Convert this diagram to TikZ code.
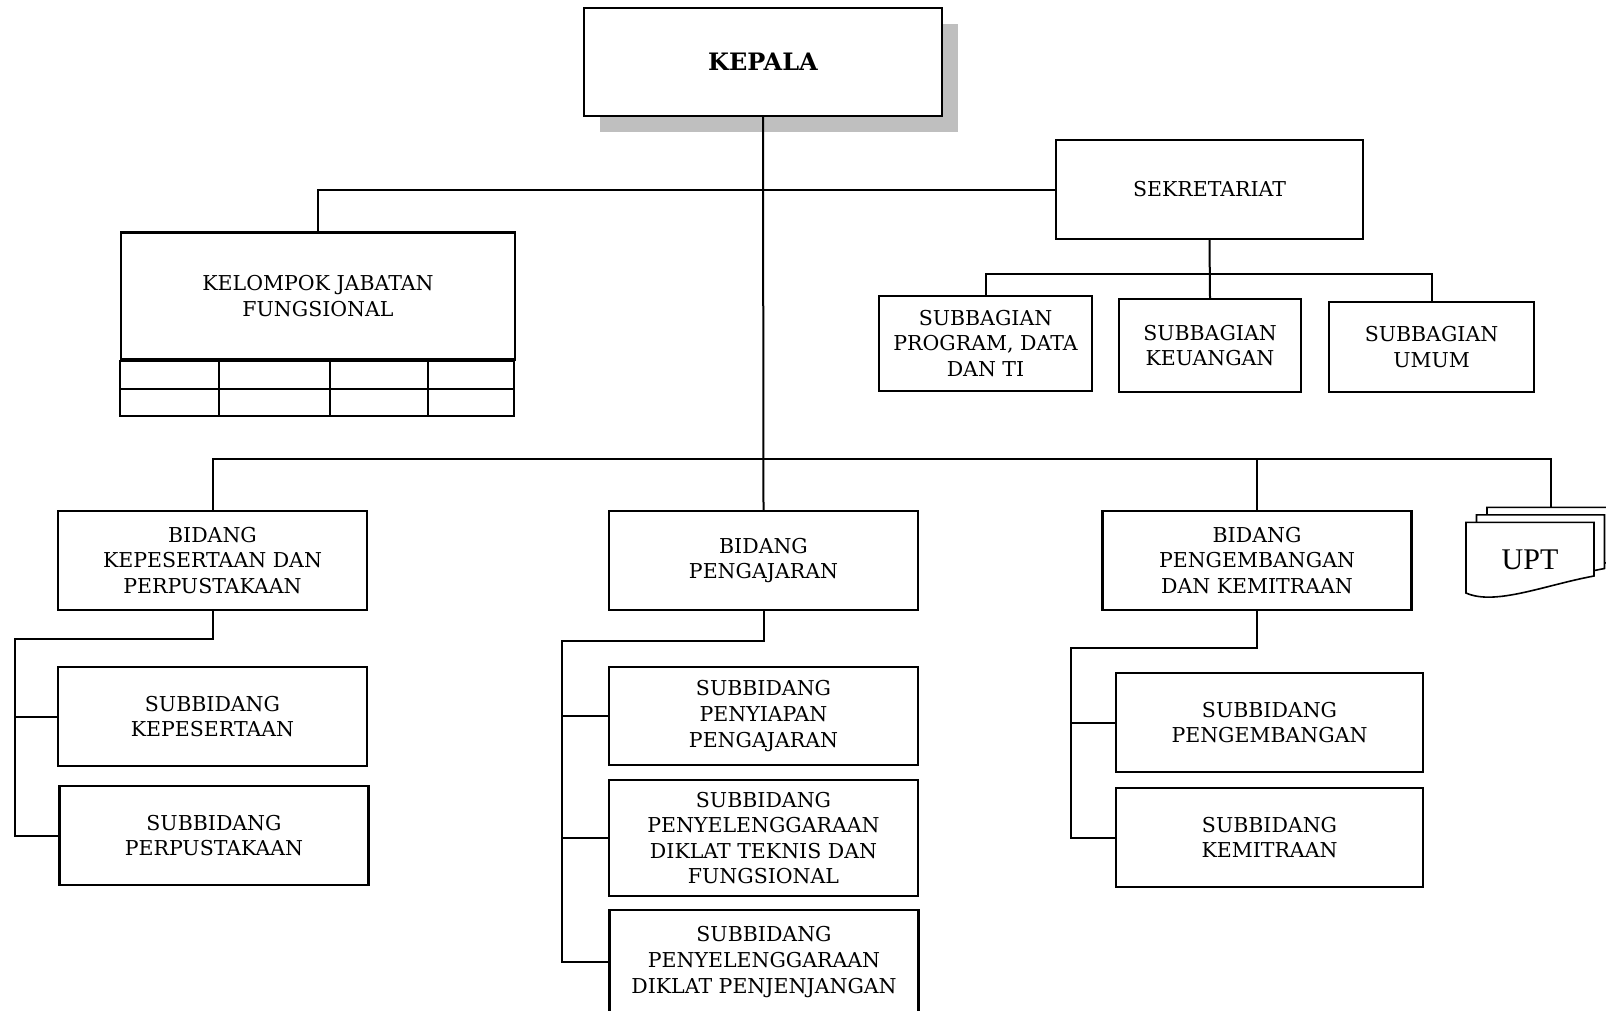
\documentclass[tikz,border=0pt]{standalone}
\usepackage{fontspec}
\setmainfont{DejaVu Serif}
\newfontfamily\uptfont{Liberation Serif}
\usepackage{xcolor}
\usepackage{tikz}
\usetikzlibrary{shapes,positioning,shadows,calc}
\definecolor{shadowgray}{RGB}{191,191,191}
\tikzset{
    unit/.style={rectangle, draw, line width=2.2pt, fill=white, align=center, inner sep=2pt, font=\fontsize{20.5}{25.6}\selectfont},
    bidang/.style={unit, minimum width=309pt, minimum height=99pt},
    chief/.style={unit, font=\fontsize{24}{28}\selectfont\bfseries, drop shadow={shadow xshift=16pt, shadow yshift=-16pt, fill=shadowgray, opacity=1}},
    line/.style={draw, line width=2pt},
    doc/.style={draw, line width=1.6pt, fill=white}
}

\begin{document}
\begin{tikzpicture}[x=1pt, y=-1pt]
    \clip (0,0) rectangle (1606,1010);
    \fill [white] (0,0) rectangle (1606,1010);

    % Kepala and Sekretariat
    \node [chief, minimum width=358pt, minimum height=108pt] (kepala) at (763,62) {KEPALA};
    \node [unit, minimum width=307pt, minimum height=99pt] (sekretariat) at (1209.5,189.5) {SEKRETARIAT};

    % Kelompok jabatan fungsional
    \node [unit, minimum width=394pt, minimum height=127pt] (kjf) at (318,296) {KELOMPOK JABATAN\\FUNGSIONAL};
    \draw [line width=2.2pt] (kjf.south west) rectangle ++(394,55.5);
    \draw [line width=2.2pt] (kjf.south west) ++(0,28.5) -- ++(394,0);
    \foreach \x in {219,330,428}
        \draw [line width=2.2pt] (\x,359.5) -- (\x,415);

    % Subbagian
    \node [unit, minimum width=213pt, minimum height=95pt] (sbprog) at (985.5,343.5) {SUBBAGIAN\\PROGRAM, DATA\\DAN TI};
    \node [unit, minimum width=182pt, minimum height=93pt] (sbkeu) at (1210,345.5) {SUBBAGIAN\\KEUANGAN};
    \node [unit, minimum width=205pt, minimum height=90pt] (sbumum) at (1431.5,347) {SUBBAGIAN\\UMUM};

    % Bidang
    \node [bidang] (bkep) at (212.5,560.5) {BIDANG\\KEPESERTAAN DAN\\PERPUSTAKAAN};
    \node [bidang] (bpeng) at (763.5,560.5) {BIDANG\\PENGAJARAN};
    \node [bidang] (bkem) at (1257,560.5) {BIDANG\\PENGEMBANGAN\\DAN KEMITRAAN};

    % UPT
    \foreach \dx/\dy in {21/-15, 10.5/-7.5, 0/0}
        \draw [doc, shift={(\dx,\dy)}] (1466,522.3) -- (1594,522.3) -- (1594,576)
            .. controls (1545,585) and (1495,606) .. (1466,593) -- cycle;
    \node [font=\uptfont\fontsize{30}{34}\selectfont] (upt) at (1530,560) {UPT};
    \coordinate (upttop) at (1551,507.3);

    % Subbidang
    \node [bidang] (sbkep) at (212.5,716.5) {SUBBIDANG\\KEPESERTAAN};
    \node [bidang] (sbpus) at (214,835.5) {SUBBIDANG\\PERPUSTAKAAN};
    \node [bidang, minimum height=98pt] (sbsiap) at (763.5,716) {SUBBIDANG\\PENYIAPAN\\PENGAJARAN};
    \node [bidang, minimum height=116pt] (sbtek) at (763.5,838) {SUBBIDANG\\PENYELENGGARAAN\\DIKLAT TEKNIS DAN\\FUNGSIONAL};
    \node [bidang, minimum height=104pt] (sbjen) at (764,962) {SUBBIDANG\\PENYELENGGARAAN\\DIKLAT PENJENJANGAN};
    \node [bidang, minimum width=307pt] (sbpengemb) at (1269.5,722.5) {SUBBIDANG\\PENGEMBANGAN};
    \node [bidang, minimum width=307pt] (sbmitra) at (1269.5,837.5) {SUBBIDANG\\KEMITRAAN};

    % Top connections
    \coordinate (bus) at (763,459);
    \coordinate (sbbus) at (1209.5,273.5);
    \path [line] (kepala.south) -- (bpeng.north);
    \path [line] (kjf.north) |- (sekretariat.west);
    \path [line] (sekretariat.south) -- (sbkeu.north);
    \path [line] (sbprog.north) |- (sbbus) -| (sbumum.north);
    \path [line] (bkep.north) |- (bus) -| (upttop);
    \path [line] (bkem.north) -- (bkem.north |- bus);

    % Subbidang connections
    \coordinate (kepTrunk) at (15,639);
    \coordinate (pengTrunk) at (562,641);
    \coordinate (kemTrunk) at (1071,648);
    \path [line] (bkep.south) |- (kepTrunk) |- (sbpus.west);
    \path [line] (kepTrunk |- sbkep.west) -- (sbkep.west);
    \path [line] (bpeng.south) |- (pengTrunk) |- (sbjen.west);
    \path [line] (pengTrunk |- sbsiap.west) -- (sbsiap.west);
    \path [line] (pengTrunk |- sbtek.west) -- (sbtek.west);
    \path [line] (bkem.south) |- (kemTrunk) |- (sbmitra.west);
    \path [line] (kemTrunk |- sbpengemb.west) -- (sbpengemb.west);
\end{tikzpicture}
\end{document}
